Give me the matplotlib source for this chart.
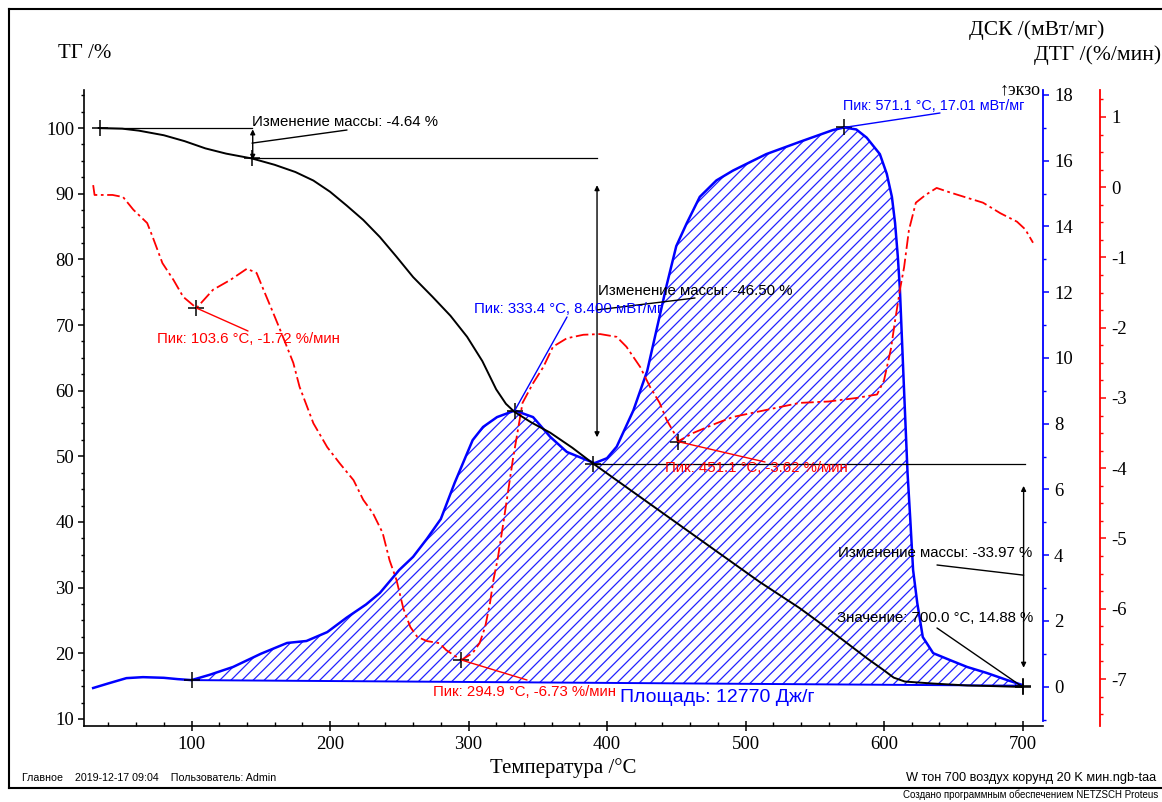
import numpy as np
import matplotlib
matplotlib.use("Agg")
import matplotlib.pyplot as plt
from matplotlib.lines import Line2D
from matplotlib.ticker import MultipleLocator

plt.rcParams['axes.unicode_minus'] = False
plt.rcParams['hatch.linewidth'] = 0.9

# ---------------- data ----------------
tg_T = [33, 50, 62, 80, 95, 110, 125, 143.7, 160, 175, 188, 200, 212, 224, 236, 248, 260, 274,
        287, 299, 310, 320, 327, 333, 345, 359, 375, 390, 420, 450, 480, 510, 539, 563, 588, 600,
        607, 615, 635, 660, 680, 700]
tg_v = [100.0, 99.9, 99.6, 98.9, 98.0, 96.9, 96.1, 95.36, 94.4, 93.3, 92.0, 90.3, 88.2, 86.0,
        83.4, 80.4, 77.3, 74.3, 71.4, 68.2, 64.5, 60.2, 58.0, 56.8, 55.2, 53.6, 51.3, 48.9, 44.4,
        39.9, 35.4, 30.9, 26.9, 23.2, 19.2, 17.4, 16.3, 15.7, 15.4, 15.1, 15.0, 14.88]

dsc_T = [29, 40, 53, 65, 80, 90, 100, 113, 130, 150, 169, 183, 198, 212, 226, 236, 250, 260,
         270, 280, 290, 303, 310.5, 320.6, 333.4, 346.6, 359, 371, 385, 391, 400, 407, 419, 429,
         436, 443, 450, 457.6, 467, 479, 491, 515, 539, 563, 571.1, 580, 587.5, 597, 602, 605.7,
         608, 610, 611.5, 614, 617, 619, 621, 624, 628, 635.5, 647.6, 660, 674, 689, 700]
dsc_v = [-0.04, 0.10, 0.26, 0.29, 0.27, 0.23, 0.20, 0.36, 0.60, 1.00, 1.33, 1.39, 1.66, 2.10,
         2.50, 2.85, 3.55, 3.95, 4.50, 5.10, 6.20, 7.50, 7.90, 8.20, 8.40, 8.20, 7.60, 7.14, 6.90,
         6.80, 6.95, 7.30, 8.40, 9.60, 10.9, 12.2, 13.4, 14.1, 14.9, 15.4, 15.7, 16.2, 16.57,
         16.93, 17.01, 16.95, 16.7, 16.2, 15.6, 14.9, 14.1, 13.07, 12.07, 9.5, 6.5, 5.07, 3.55,
         2.55, 1.51, 1.02, 0.81, 0.60, 0.42, 0.20, 0.05]
base_T = [100, 700]
base_v = [0.20, 0.03]

dtg_T = [29, 30, 43, 50.6, 58, 68, 72, 79, 87, 94, 103.6, 115.5, 128, 140, 147, 152, 159, 164,
         173.5, 178, 188, 198, 207, 217, 224, 231, 238, 243, 248, 253, 258, 263, 270, 279, 284,
         291.6, 294.9, 303, 308, 312, 315.5, 318, 321, 325, 332, 339, 346.6, 354, 361, 371, 383,
         395, 407, 414, 424, 431, 438, 443, 450, 451.1, 462, 479, 491, 515, 539, 560, 580, 595,
         600, 605, 608, 611.5, 614.5, 618, 623, 630, 638, 647, 660, 671.5, 684, 696, 702, 707.6]
dtg_v = [0.03, -0.11, -0.11, -0.14, -0.32, -0.51, -0.71, -1.08, -1.32, -1.56, -1.72, -1.46,
         -1.32, -1.16, -1.22, -1.46, -1.79, -2.03, -2.50, -2.84, -3.36, -3.70, -3.93, -4.17,
         -4.45, -4.64, -4.92, -5.31, -5.59, -6.00, -6.26, -6.40, -6.46, -6.49, -6.59, -6.69,
         -6.73, -6.63, -6.49, -6.26, -5.92, -5.59, -5.30, -4.80, -3.88, -3.07, -2.79, -2.56,
         -2.27, -2.15, -2.10, -2.09, -2.13, -2.27, -2.56, -2.84, -3.07, -3.31, -3.55, -3.62,
         -3.50, -3.36, -3.27, -3.17, -3.07, -3.05, -3.00, -2.95, -2.75, -2.30, -1.90, -1.46,
         -1.14, -0.61, -0.22, -0.11, -0.01, -0.07, -0.15, -0.22, -0.37, -0.49, -0.60, -0.79]

# mass-change steps (TG)
step_T = [33.8, 143.7, 390.0, 700.0]
step_lv = [100.0, 95.36, 48.86, 14.88]

# peaks
dsc_peak_T = [333.4, 571.1]
dsc_peak_v = [8.40, 17.01]
dtg_peak_T = [103.6, 294.9, 451.1]
dtg_peak_v = [-1.72, -6.73, -3.62]

W, H = 1162, 802
SERIF = ['Liberation Serif', 'DejaVu Serif']
SANS = ['Liberation Sans', 'DejaVu Sans']

fig = plt.figure(figsize=(W / 100, H / 100), dpi=100)
ax = fig.add_axes([84 / W, 1 - 726 / H, (1043 - 84) / W, (726 - 90) / H])
ax2 = ax.twinx()
ax3 = ax.twinx()
ax.set_zorder(3)
ax.patch.set_visible(False)
ax2.set_zorder(1)
ax3.set_zorder(2)

ax.set_xlim(22.38, 714.8)
ax.set_ylim(8.93, 105.79)
ax2.set_ylim(-1.196, 18.15)
ax3.set_ylim(-7.669, 1.384)

# spines
for s in ['top', 'right']:
    ax.spines[s].set_visible(False)
for a in (ax2, ax3):
    for s in ['top', 'left', 'bottom']:
        a.spines[s].set_visible(False)
ax.spines['left'].set_linewidth(1.2)
ax.spines['bottom'].set_linewidth(1.2)
ax2.spines['right'].set_color('#0000ff')
ax2.spines['right'].set_linewidth(1.3)
ax2.spines['right'].set_bounds(-1.04, 18.15)
ax3.spines['right'].set_position(('outward', 41))
ax3.spines['right'].set_color('#ff0000')
ax3.spines['right'].set_linewidth(1.3)

# ticks
ax.xaxis.set_minor_locator(MultipleLocator(20))
ax.yaxis.set_minor_locator(MultipleLocator(2.5))
ax.set_xticks([100, 200, 300, 400, 500, 600, 700])
ax.set_yticks(range(10, 101, 10))
ax2.yaxis.set_minor_locator(MultipleLocator(1))
ax2.set_yticks(range(0, 19, 2))
ax3.yaxis.set_minor_locator(MultipleLocator(0.25))
ax3.set_yticks(range(-7, 2))

ax.tick_params(axis='x', which='major', direction='inout', length=7, width=1.1, pad=4, labelsize=13.5)
ax.tick_params(axis='x', which='minor', direction='in', length=3, width=1)
ax.tick_params(axis='y', which='major', direction='out', length=4, width=1.1, pad=3, labelsize=13.5)
ax.tick_params(axis='y', which='minor', direction='out', length=2, width=1)
ax2.tick_params(axis='y', which='major', direction='out', length=4, width=1.1, pad=4, labelsize=13.5, color='#0000ff')
ax2.tick_params(axis='y', which='minor', direction='out', length=2, width=1, color='#0000ff')
ax3.tick_params(axis='y', which='major', direction='out', length=4, width=1.1, pad=4, labelsize=13.5, color='#ff0000')
ax3.tick_params(axis='y', which='minor', direction='out', length=2, width=1, color='#ff0000')
for a in (ax, ax2, ax3):
    for lab in a.get_xticklabels() + a.get_yticklabels():
        lab.set_family(SERIF)

# ---------------- curves ----------------
# DSC with hatched peak area
ft = np.array(dsc_T, dtype=float)
fv = np.array(dsc_v, dtype=float)
mask = ft >= base_T[0]
bl = np.interp(ft[mask], base_T, base_v)
ax2.fill_between(ft[mask], bl, fv[mask], facecolor='none', edgecolor='#2222ff',
                 hatch='///', linewidth=0)
ax2.plot(base_T, base_v, color='#0000ff', lw=1.4)
ax2.plot(dsc_T, dsc_v, color='#0000ff', lw=1.8)

# DTG
ax3.plot(dtg_T, dtg_v, color='#ff0000', lw=1.3, linestyle=(0, (7, 2, 1.5, 2)))

# TG
ax.plot(tg_T, tg_v, color='black', lw=1.4)

# step lines
ax.plot([step_T[0], step_T[1]], [step_lv[0], step_lv[0]], color='black', lw=0.9)
ax.plot([step_T[1], 392.8], [step_lv[1], step_lv[1]], color='black', lw=0.9)
ax.plot([step_T[2], 701.5], [step_lv[2], step_lv[2]], color='black', lw=0.9)
ar = dict(arrowstyle='<|-|>', lw=1.0, color='black', mutation_scale=7, shrinkA=0, shrinkB=0)
ax.annotate('', xy=(step_T[1] + 0.5, step_lv[1] - 0.2), xytext=(step_T[1] + 0.5, step_lv[0] - 0.2), arrowprops=ar)
ax.annotate('', xy=(392.8, 52.9), xytext=(392.8, 91.3), arrowprops=ar)
ax.annotate('', xy=(700.8, 17.8), xytext=(700.8, 45.5), arrowprops=ar)

# markers
mk = dict(marker='+', ms=11, mew=1.1, color='black', ls='none')
ax.plot(step_T, step_lv, **mk)
ax2.plot([base_T[0], base_T[1]], [base_v[0], base_v[1]], **mk)
ax2.plot(dsc_peak_T, dsc_peak_v, **mk)
ax3.plot(dtg_peak_T, dtg_peak_v, **mk)

# connectors (text anchor given in figure pixels)
def conn(a, xy, px, py, color):
    a.annotate('', xy=xy, xytext=(px, H - py), textcoords='figure pixels',
               arrowprops=dict(arrowstyle='-', lw=1.0, color=color, shrinkA=0, shrinkB=0))

conn(ax, (143.7, 97.7), 347, 130, 'black')
conn(ax, (392.8, 72.3), 695, 298, 'black')
conn(ax, (700.8, 31.9), 937, 565, 'black')
conn(ax, (700.0, 14.88), 937, 628, 'black')
conn(ax2, (dsc_peak_T[0], dsc_peak_v[0]), 567, 317, '#0000ff')
conn(ax2, (dsc_peak_T[1], dsc_peak_v[1]), 940, 113, '#0000ff')
conn(ax3, (dtg_peak_T[0], dtg_peak_v[0]), 248, 331, '#ff0000')
conn(ax3, (dtg_peak_T[1], dtg_peak_v[1]), 527, 680, '#ff0000')
conn(ax3, (dtg_peak_T[2], dtg_peak_v[2]), 765, 462, '#ff0000')

# ---------------- texts ----------------
def t(x, y, s, color='black', size=10.8, ha='left', fam=SANS, **kw):
    fig.text(x / W, 1 - y / H, s, color=color, fontsize=size, ha=ha, va='center',
             family=fam, zorder=10, **kw)

t(252, 122, 'Изменение массы: -4.64 %')
t(598, 291, 'Изменение массы: -46.50 %')
t(838, 553, 'Изменение массы: -33.97 %')
t(837, 618, 'Значение: 700.0 °C, 14.88 %')
t(474, 309, 'Пик: 333.4 °C, 8.400 мВт/мг', color='#0000ff')
t(843, 106, 'Пик: 571.1 °C, 17.01 мВт/мг', color='#0000ff', size=10.4)
t(157, 339, 'Пик: 103.6 °C, -1.72 %/мин', color='#ff0000')
t(433, 692, 'Пик: 294.9 °C, -6.73 %/мин', color='#ff0000')
t(665, 468, 'Пик: 451.1 °C, -3.62 %/мин', color='#ff0000')
t(620, 698, 'Площадь: 12770 Дж/г', color='#0000ff', size=14)

# axis titles
t(58, 54, 'ТГ /%', size=15, fam=SERIF)
t(1104, 30, 'ДСК /(мВт/мг)', size=15.5, ha='right', fam=SERIF)
t(1161, 55, 'ДТГ /(%/мин)', size=15.5, ha='right', fam=SERIF)
t(563, 768, 'Температура /°C', size=15, ha='center', fam=SERIF)
t(1041, 90, '↑экзо', size=13, ha='right', fam=SERIF)

# footer
t(22, 778, 'Главное    2019-12-17 09:04    Пользователь: Admin', size=7.7)
t(1156, 778, 'W тон 700 воздух корунд 20 K мин.ngb-taa', size=9.2, ha='right')
t(1158, 795, 'Создано программным обеспечением NETZSCH Proteus', size=7.0, ha='right')

# outer frame
for xs, ys in [((9, 1162), (9, 9)), ((9, 9), (9, 788)), ((9, 1162), (788, 788))]:
    fig.add_artist(Line2D([x / W for x in xs], [1 - y / H for y in ys],
                          color='black', lw=1.5, transform=fig.transFigure))

fig.savefig('out.png', dpi=100, facecolor='white')
